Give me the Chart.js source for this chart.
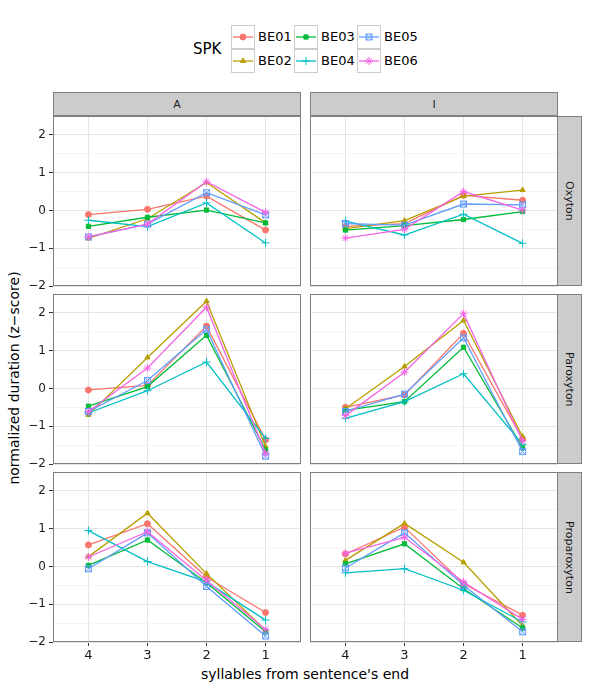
<!DOCTYPE html>
<html>
<head>
<meta charset="utf-8">
<script src="https://cdn.jsdelivr.net/npm/chart.js@4.4.0/dist/chart.umd.min.js"></script>
<style>
	body { margin: 0; background: #fff; font-family: "DejaVu Sans", sans-serif; }
	#fig { position: relative; width: 590px; height: 688px; overflow: hidden; }
	#fig canvas { position: absolute; }
	.strip { position: absolute; box-sizing: border-box; background: #CCCCCC; border: 1px solid #7F7F7F; color: #1a1a1a; font-size: 11px; display: flex; align-items: center; justify-content: center; }
	.side { writing-mode: vertical-rl; }
	.lab { position: absolute; color: #000; white-space: nowrap; }
</style>
</head>
<body>
<div id="fig">
	<div class="lab" style="left:193px; top:40px; font-size:15px;">SPK</div>

	<div class="strip" style="left:53px; top:92px; width:248px; height:24px;">A</div>
	<div class="strip" style="left:310px; top:92px; width:248px; height:24px;">I</div>
	<div class="strip side" style="left:557px; top:116px; width:25px; height:170px;">Oxyton</div>
	<div class="strip side" style="left:557px; top:294px; width:25px; height:170px;">Paroxyton</div>
	<div class="strip side" style="left:557px; top:472px; width:25px; height:170px;">Proparoxyton</div>

	<div class="lab" style="left:0; top:378px; width:28px; height:0; font-size:14px;">
		<div style="position:absolute; left:14px; top:0; transform: translate(-50%,-50%) rotate(-90deg);">normalized duration (z&#8722;score)</div>
	</div>
	<div class="lab" style="left:305px; top:666px; font-size:14px; transform: translateX(-50%);">syllables from sentence's end</div>
</div>

<script>
// categories and speakers
const xLabels = ['4', '3', '2', '1'];
const speakers = ['BE01', 'BE02', 'BE03', 'BE04', 'BE05', 'BE06'];
const colors = ['#F8766D', '#B79F00', '#00BA38', '#00BFC4', '#619CFF', '#F564E3'];

// values per panel, one row per speaker (BE01..BE06)
const oxytonA = [
	[-0.11, 0.03, 0.38, -0.52],
	[-0.74, -0.22, 0.74, -0.33],
	[-0.42, -0.18, 0.01, -0.33],
	[-0.26, -0.43, 0.20, -0.86],
	[-0.70, -0.36, 0.47, -0.12],
	[-0.70, -0.36, 0.76, -0.05]
];
const oxytonI = [
	[-0.42, -0.35, 0.40, 0.27],
	[-0.48, -0.27, 0.38, 0.54],
	[-0.52, -0.40, -0.24, -0.03],
	[-0.28, -0.65, -0.10, -0.87],
	[-0.35, -0.39, 0.17, 0.15],
	[-0.73, -0.50, 0.50, 0.01]
];
const paroxytonA = [
	[-0.04, 0.08, 1.65, -1.36],
	[-0.70, 0.82, 2.31, -1.54],
	[-0.47, 0.05, 1.41, -1.63],
	[-0.65, -0.06, 0.70, -1.32],
	[-0.61, 0.21, 1.56, -1.79],
	[-0.61, 0.54, 2.15, -1.72]
];
const paroxytonI = [
	[-0.50, -0.17, 1.46, -1.34],
	[-0.54, 0.58, 1.80, -1.27],
	[-0.58, -0.35, 1.09, -1.57],
	[-0.79, -0.35, 0.39, -1.48],
	[-0.61, -0.15, 1.34, -1.67],
	[-0.72, 0.43, 1.98, -1.39]
];
const proparoxytonA = [
	[0.57, 1.13, -0.28, -1.22],
	[0.26, 1.41, -0.19, -1.69],
	[0.03, 0.70, -0.43, -1.73],
	[0.95, 0.13, -0.41, -1.42],
	[-0.06, 0.89, -0.53, -1.84],
	[0.25, 0.92, -0.37, -1.67]
];
const proparoxytonI = [
	[0.33, 1.04, -0.46, -1.29],
	[0.16, 1.14, 0.11, -1.57],
	[0.07, 0.60, -0.59, -1.63],
	[-0.17, -0.06, -0.63, -1.47],
	[-0.04, 0.89, -0.50, -1.73],
	[0.35, 0.77, -0.41, -1.40]
];
const yTicks = [-2, -1.5, -1, -0.5, 0, 0.5, 1, 1.5, 2];

// boxed cross marker for BE05 (ggplot shape 7)
function boxCross(color) {
	const c = document.createElement('canvas');
	c.width = 9; c.height = 9;
	const g = c.getContext('2d');
	g.strokeStyle = color;
	g.lineWidth = 1;
	g.strokeRect(1.5, 1.5, 6, 6);
	g.beginPath();
	g.moveTo(1.5, 1.5); g.lineTo(7.5, 7.5);
	g.moveTo(7.5, 1.5); g.lineTo(1.5, 7.5);
	g.stroke();
	return c;
}
const shapes = ['circle', 'triangle', 'rect', 'cross', boxCross(colors[4]), 'star'];
const radius = i => (i === 3 || i === 5 ? 4 : 3);

const panelBorder = {
	id: 'panelBorder',
	afterDatasetsDraw(chart) {
		const a = chart.chartArea;
		const ctx = chart.ctx;
		ctx.save();
		ctx.strokeStyle = '#7F7F7F';
		ctx.lineWidth = 1;
		ctx.strokeRect(Math.round(a.left) + 0.5, Math.round(a.top) + 0.5, Math.round(a.right - a.left) - 1, Math.round(a.bottom - a.top) - 1);
		ctx.restore();
	}
};

function noPadding(s) {
	s.paddingTop = 0; s.paddingBottom = 0;
	s.paddingLeft = 0; s.paddingRight = 0;
}

function makePanel(values, left, top, isLeft, isBottom) {
	const canvas = document.createElement('canvas');
	const w = isLeft ? 301 : 248;
	const h = isBottom ? 201 : 178;
	canvas.width = w; canvas.height = h;
	canvas.style.left = (isLeft ? 0 : left) + 'px';
	canvas.style.top = top + 'px';
	document.getElementById('fig').appendChild(canvas);

	const datasets = values.map((row, i) => ({
		label: speakers[i],
		data: row.map((v, j) => ({ x: j, y: v })),
		borderColor: colors[i],
		backgroundColor: colors[i],
		borderWidth: 1.3,
		pointStyle: shapes[i],
		pointRadius: radius(i),
		pointBorderWidth: 1,
		pointBackgroundColor: colors[i],
		pointBorderColor: colors[i],
		order: 5 - i
	}));

	new Chart(canvas, {
		type: 'line',
		data: { datasets: datasets },
		options: {
			responsive: false,
			animation: false,
			layout: { padding: { bottom: isBottom ? 0 : 8 }, autoPadding: false },
			plugins: { legend: { display: false }, tooltip: { enabled: false } },
			scales: {
				x: {
					type: 'linear',
					min: -0.6,
					max: 3.6,
					afterBuildTicks: s => { s.ticks = xLabels.map((_, i) => ({ value: i })); },
					afterFit: s => { s.height = isBottom ? 31 : 0; noPadding(s); },
					border: { display: false },
					grid: { color: '#E5E5E5', drawTicks: isBottom, tickLength: 4, tickColor: '#333' },
					ticks: {
						display: isBottom,
						padding: 2,
						color: '#1a1a1a',
						font: { family: 'DejaVu Sans', size: 13 },
						callback: v => xLabels[v]
					}
				},
				y: {
					min: -2,
					max: 2.5,
					afterBuildTicks: s => { s.ticks = yTicks.map(v => ({ value: v })); },
					afterFit: s => { s.width = isLeft ? 53 : 0; noPadding(s); },
					border: { display: false },
					grid: {
						color: ctx => Number.isInteger(ctx.tick.value) ? '#E5E5E5' : '#F5F5F5',
						drawTicks: isLeft,
						tickLength: 4,
						tickColor: ctx => Number.isInteger(ctx.tick.value) ? '#333' : 'rgba(0,0,0,0)'
					},
					ticks: {
						display: isLeft,
						padding: 3,
						color: '#1a1a1a',
						font: { family: 'DejaVu Sans', size: 12 },
						callback: v => Number.isInteger(v) ? String(v).replace('-', '\u2212') : ''
					}
				}
			}
		},
		plugins: [panelBorder]
	});
}

makePanel(oxytonA, 53, 116, true, false);
makePanel(oxytonI, 310, 116, false, false);
makePanel(paroxytonA, 53, 294, true, false);
makePanel(paroxytonI, 310, 294, false, false);
makePanel(proparoxytonA, 53, 472, true, true);
makePanel(proparoxytonI, 310, 472, false, true);

// legend keys
function drawKey(i, x, y) {
	const c = document.createElement('canvas');
	c.width = 24; c.height = 24;
	c.style.left = x + 'px';
	c.style.top = y + 'px';
	const g = c.getContext('2d');
	g.fillStyle = '#fff';
	g.fillRect(0, 0, 24, 24);
	g.strokeStyle = '#CCCCCC';
	g.lineWidth = 1;
	g.strokeRect(0.5, 0.5, 23, 23);
	g.strokeStyle = colors[i];
	g.fillStyle = colors[i];
	g.lineWidth = 1.3;
	g.beginPath(); g.moveTo(2, 12); g.lineTo(22, 12); g.stroke();
	g.lineWidth = 1;
	Chart.helpers.drawPoint(g, { pointStyle: shapes[i], radius: radius(i), borderWidth: 1, rotation: 0 }, 12, 12);
	document.getElementById('fig').appendChild(c);

	const t = document.createElement('div');
	t.className = 'lab';
	t.style.left = (x + 27) + 'px';
	t.style.top = (y + 4) + 'px';
	t.style.fontSize = '13px';
	t.textContent = speakers[i];
	document.getElementById('fig').appendChild(t);
}
const keyCols = [231, 294, 357];
speakers.forEach((s, i) => drawKey(i, keyCols[Math.floor(i / 2)], 25 + (i % 2) * 24));
</script>
</body>
</html>
